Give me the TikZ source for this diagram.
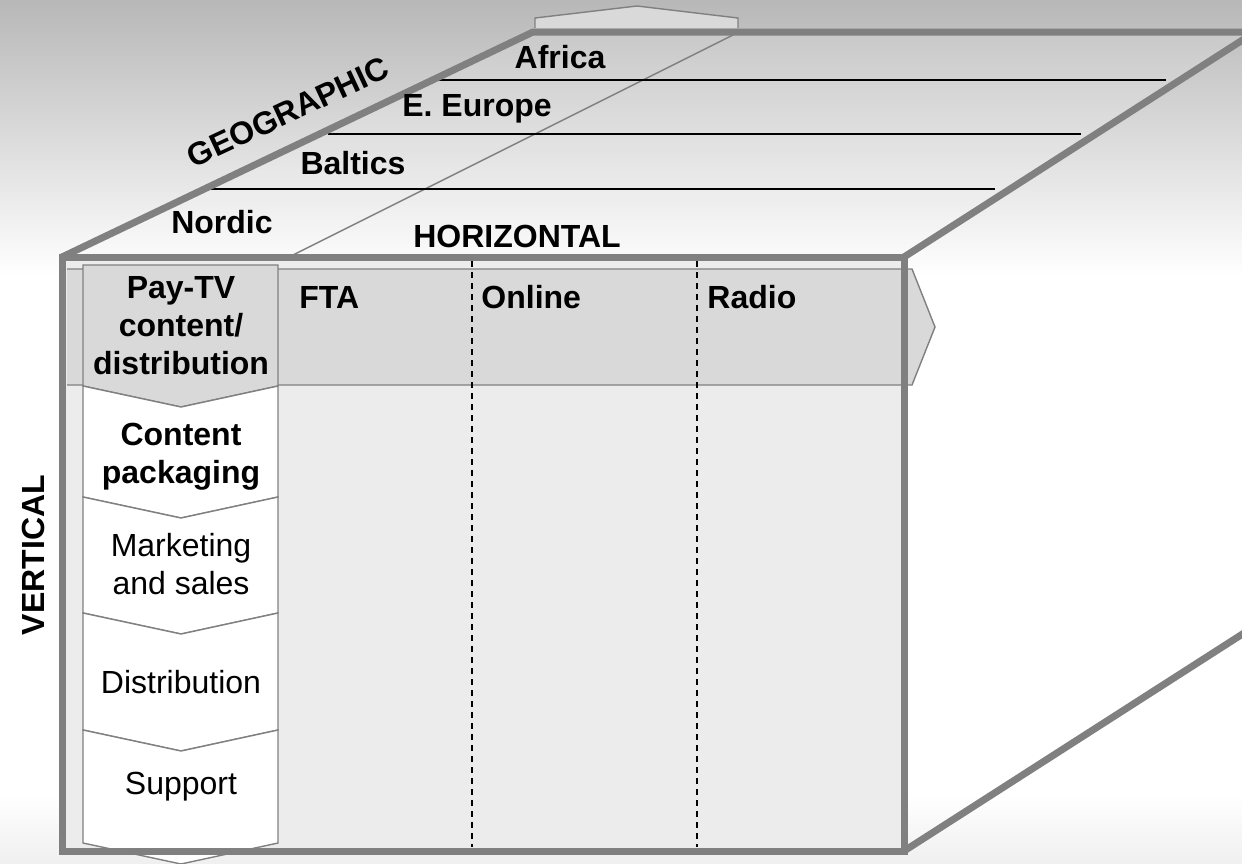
\documentclass[tikz,border=0pt]{standalone}
\usepackage{fontspec}
\setmainfont{Liberation Sans}
\pgfdeclareverticalshading{backshade}{100bp}{color(0bp)=(gray!12); color(25bp)=(gray!12); color(29bp)=(white); color(59bp)=(white); color(75bp)=(gray!56); color(100bp)=(gray!56)}
\begin{document}
\begin{tikzpicture}[x=0.5pt,y=-0.5pt]
		\begin{scope}
		
		\tikzstyle{cubeedge}=[draw=gray,
		line width=3.5pt,
		line join=miter
		]
		\tikzstyle{thinedge}=[draw=gray,
		line width=0.7pt
		]
		\tikzstyle{chevron}=[draw=gray,
		line width=0.7pt,
		fill=white
		]
		\tikzstyle{lbl}=[inner sep=0pt,
		align=center,
		font=\fontsize{16}{19}\selectfont
		]
		\tikzstyle{blbl}=[lbl,
		font=\fontsize{16}{19}\selectfont\bfseries
		]
		
		\useasboundingbox (0,0) rectangle (1242,863);
		\clip (0,0) rectangle (1242,863);
		\shade[shading=backshade] (0,0) rectangle (1242,863);
		
		% corners of the cube
		\coordinate (ftl) at (62, 257);
		\coordinate (ftr) at (904, 257);
		\coordinate (fbl) at (62, 851);
		\coordinate (fbr) at (904, 851);
		\coordinate (btl) at (533, 32);
		\coordinate (btr) at (1255, 32);
		\coordinate (bbr) at (1255, 626);
		
		% arrow on the top face
		\draw[thinedge, fill=gray!30] (535,28) -- (535,18) -- (637,6) -- (738,18) -- (738,28);
		\fill[white, fill opacity=0.15] (ftl) -- (btl) -- (btr) -- (ftr) -- cycle;
		\draw[thinedge] (289,257) -- (739,32);
		
		% regions
		\draw[-, line width=0.9pt] (438,80) -- (1166,80);
		\draw[-, line width=0.9pt] (328,134) -- (1081,134);
		\draw[-, line width=0.9pt] (209,189) -- (995,189);
		
		% front face
		\fill[gray!15] (ftl) rectangle (fbr);
		\draw[thinedge, fill=gray!30] (67,269) -- (912,269) -- (935,327) -- (912,385) -- (67,385);
		\draw[-, dashed, line width=0.6pt, dash pattern=on 3pt off 2.5pt] (472,261) -- (472,847);
		\draw[-, dashed, line width=0.6pt, dash pattern=on 3pt off 2.5pt] (697,261) -- (697,847);
		
		% vertical chain
		\draw[chevron, fill=gray!30] (83,265) -- (278,265) -- (278,386) -- (181,407) -- (83,386) -- cycle;
		\foreach \ya/\yb in {386/497, 497/613, 613/730, 730/843}
		{
			\draw[chevron] (83,\ya) -- (181,\ya+21) -- (278,\ya) -- (278,\yb) -- (181,\yb+21) -- (83,\yb) -- cycle;
		}
		
		% cube edges
		\draw[cubeedge] (ftl) rectangle (fbr);
		\draw[cubeedge] (ftl) -- (btl) -- (btr);
		\draw[cubeedge] (ftr) -- (btr);
		\draw[cubeedge] (fbr) -- (bbr);
		
		\node[blbl] (africa) at (560, 57) {Africa};
		\node[blbl] (eeurope) at (477, 109) {E. Europe};
		\node[blbl] (baltics) at (353, 163) {Baltics};
		\node[blbl] (nordic) at (222, 222) {Nordic};
		\node[blbl] (horiz) at (517, 236) {HORIZONTAL};
		\node[blbl, rotate=25] (geo) at (288, 112) {GEOGRAPHIC};
		\node[blbl, rotate=90] (vert) at (33, 555) {VERTICAL};
		
		\node[blbl] (paytv) at (181, 326) {Pay-TV\\content/\\distribution};
		\node[blbl] (packaging) at (181, 457) {Content\\packaging};
		\node[lbl] (marketing) at (181, 564) {Marketing\\and sales};
		\node[lbl] (distribution) at (181, 682) {Distribution};
		\node[lbl] (support) at (181, 787) {Support};
		
		\node[blbl, anchor=west] (fta) at (299, 297) {FTA};
		\node[blbl, anchor=west] (online) at (481, 297) {Online};
		\node[blbl, anchor=west] (radio) at (707, 297) {Radio};
		
		\end{scope}
\end{tikzpicture}
\end{document}
